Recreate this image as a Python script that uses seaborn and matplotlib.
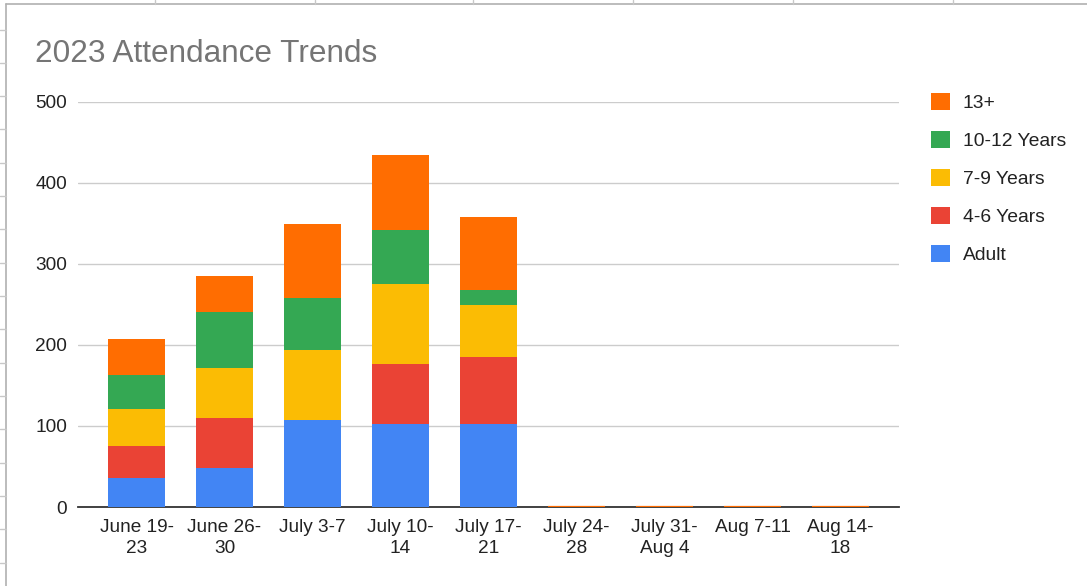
import numpy as np
import pandas as pd
import seaborn as sns
import matplotlib.pyplot as plt
from matplotlib.patches import Patch
from matplotlib.lines import Line2D

#----------------------------data
weeks = ["June 19-\n23", "June 26-\n30", "July 3-7", "July 10-\n14", "July 17-\n21",
         "July 24-\n28", "July 31-\nAug 4", "Aug 7-11", "Aug 14-\n18"]
adult = [36, 48, 107, 102, 102, 0, 0, 0, 0]
age_4_6 = [39, 62, 0, 75, 83, 0, 0, 0, 0]
age_7_9 = [46, 62, 87, 98, 64, 0, 0, 0, 0]
age_10_12 = [42, 69, 64, 67, 19, 0, 0, 0, 0]
age_13_up = [44, 44, 91, 93, 90, 0, 0, 0, 0]

series_names = ["Adult", "4-6 Years", "7-9 Years", "10-12 Years", "13+"]
colors = ["#4285F4", "#EA4335", "#FBBC04", "#34A853", "#FF6D01"]

df = pd.DataFrame({"week": weeks, "Adult": adult, "4-6 Years": age_4_6,
                   "7-9 Years": age_7_9, "10-12 Years": age_10_12, "13+": age_13_up})
cum = df[series_names].cumsum(axis=1)

sns.set_style("white")
plt.rcParams["font.family"] = ["Liberation Sans", "DejaVu Sans"]

fig = plt.figure(figsize=(10.87, 5.86), dpi=100)
ax = fig.add_axes([0.0718, 0.1348, 0.7552, 0.6912])

#----------------------------stack by drawing cumulative totals, tallest first
for i in range(len(series_names) - 1, -1, -1):
    name = series_names[i]
    sns.barplot(x=df["week"], y=cum[name], color=colors[i], saturation=1,
                width=0.65, linewidth=0, ax=ax, zorder=3)
    if i == len(series_names) - 1:
        # zero weeks show up as a thin orange line on the axis
        for p in ax.patches:
            if p.get_height() == 0:
                p.set_edgecolor(colors[i])
                p.set_linewidth(1.6)

ax.set_xlim(-0.665, 8.665)
ax.set_ylim(0, 500)
ax.set_yticks([0, 100, 200, 300, 400, 500])
ax.set_xlabel("")
ax.set_ylabel("")
ax.grid(axis="y", color="#cccccc", linewidth=1, zorder=0)
for s in ["top", "right", "left"]:
    ax.spines[s].set_visible(False)
ax.spines["bottom"].set_color("#333333")
ax.spines["bottom"].set_linewidth(1.3)
ax.spines["bottom"].set_zorder(2)
ax.tick_params(axis="both", length=0, labelsize=13.7, labelcolor="#222222")
ax.tick_params(axis="y", pad=8)
ax.tick_params(axis="x", pad=8.5)
for t in ax.get_xticklabels():
    t.set_linespacing(1.35)

fig.text(0.032, 0.907, "2023 Attendance Trends", fontsize=22.7, color="#757575", va="center")

#----------------------------legend, top series first
handles = [Patch(facecolor=colors[i], edgecolor="none") for i in range(len(colors) - 1, -1, -1)]
labels = series_names[::-1]
fig.legend(handles, labels, loc="upper left", bbox_to_anchor=(0.8405, 0.871),
           frameon=False, fontsize=13.9, handlelength=1.0, handleheight=1.0,
           handletextpad=0.65, labelspacing=0.97, labelcolor="#222222")

#----------------------------spreadsheet cells around the chart
grey = "#c8c8c8"
fig.add_artist(Line2D([6 / 1087, 6 / 1087], [0, 1 - 4 / 586], color="#b0b0b0", lw=1.2))
fig.add_artist(Line2D([6 / 1087, 1], [1 - 4 / 586, 1 - 4 / 586], color="#b0b0b0", lw=1.2))
for x in [155, 315, 473, 633, 793, 953]:
    fig.add_artist(Line2D([x / 1087, x / 1087], [1 - 4 / 586, 1], color=grey, lw=1))
for y in [30, 63, 96, 129, 163, 196, 229, 263, 296, 329, 363, 396, 429, 463, 496, 529, 563]:
    fig.add_artist(Line2D([0, 6 / 1087], [1 - y / 586, 1 - y / 586], color=grey, lw=1))

fig.savefig("out.png", dpi=100)
